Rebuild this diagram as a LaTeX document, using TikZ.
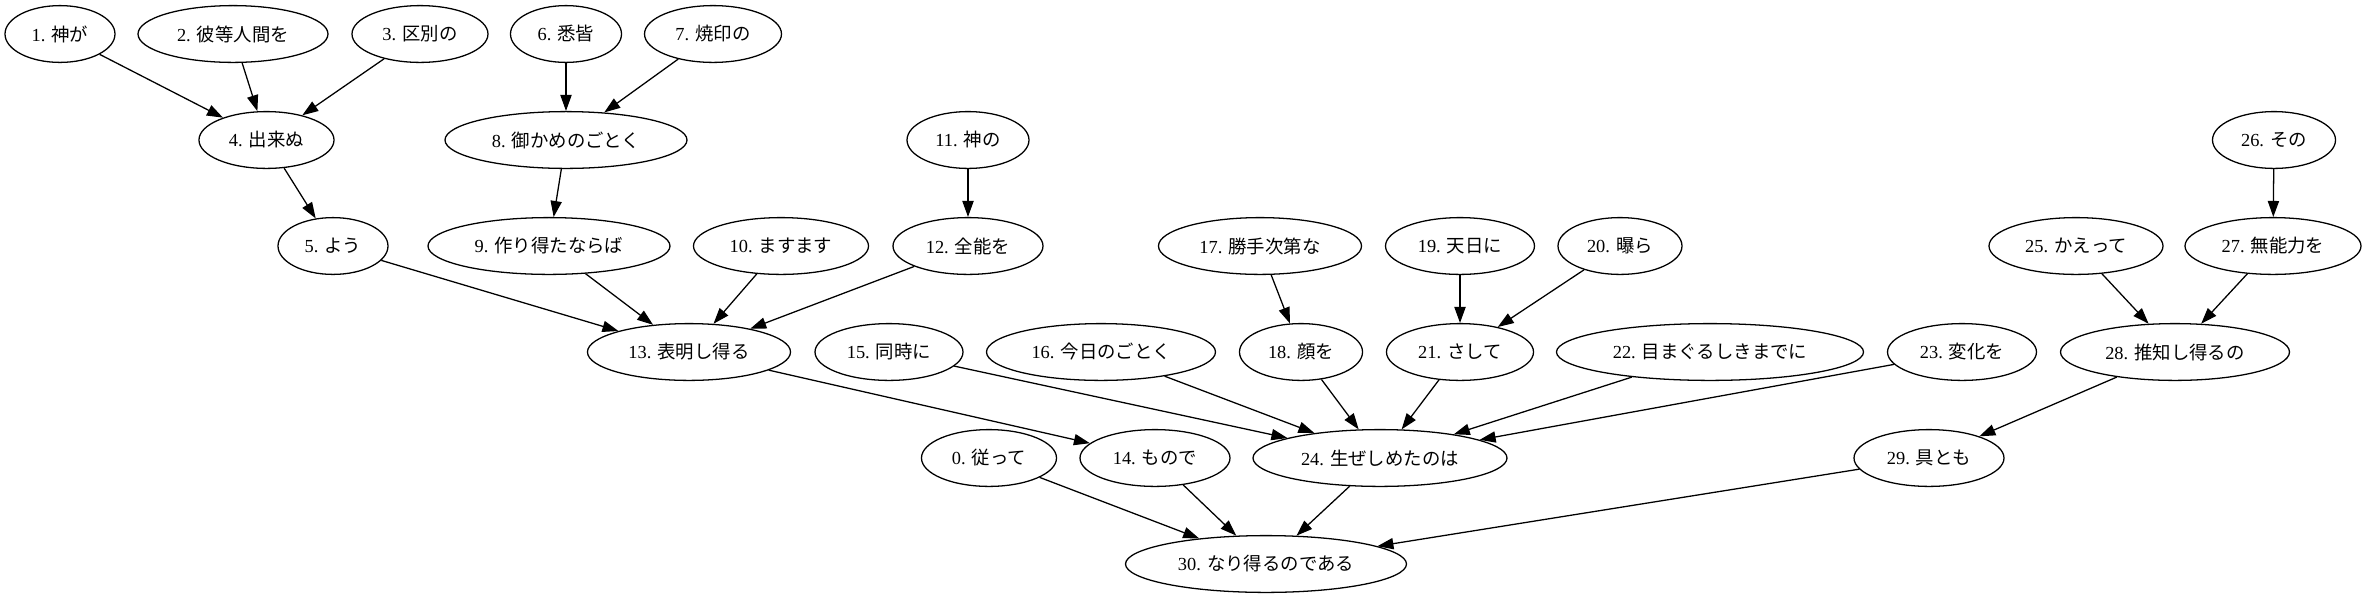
\documentclass[tikz,border=0pt]{standalone}
\usepackage{fontspec}
\setmainfont{Liberation Serif}
\newfontfamily\cjk{Noto Sans CJK JP}
\usetikzlibrary{shapes.geometric,arrows.meta}
\newcommand{\lb}[2]{#1 {\cjk #2}}
\begin{document}
\begin{tikzpicture}[x=0.625pt,y=-0.625pt,
  nd/.style={ellipse,draw,line width=0.8pt,inner sep=0pt,minimum height=35.5pt,font=\fontsize{11.5pt}{14pt}\selectfont},
  ar/.style={line width=0.8pt,-{Triangle[length=10pt,width=7pt]}}]
\useasboundingbox (0,0) rectangle (2366,599);
% row 1
\node[nd,minimum width=68.75pt] (n1) at (60,34) {\lb{1.}{神が}};
\node[nd,minimum width=118.75pt] (n2) at (233,34) {\lb{2.}{彼等人間を}};
\node[nd,minimum width=85pt] (n3) at (420,34) {\lb{3.}{区別の}};
\node[nd,minimum width=69.4pt] (n6) at (566,34) {\lb{6.}{悉皆}};
\node[nd,minimum width=85.6pt] (n7) at (713,34) {\lb{7.}{焼印の}};
% row 2
\node[nd,minimum width=84.4pt] (n4) at (266.5,140) {\lb{4.}{出来ぬ}};
\node[nd,minimum width=151.25pt] (n8) at (566,140) {\lb{8.}{御かめのごとく}};
\node[nd,minimum width=76.25pt] (n11) at (968,140) {\lb{11.}{神の}};
\node[nd,minimum width=76.9pt] (n26) at (2274,140) {\lb{26.}{その}};
% row 3
\node[nd,minimum width=68.75pt] (n5) at (333,246) {\lb{5.}{よう}};
\node[nd,minimum width=151.25pt] (n9) at (549,246) {\lb{9.}{作り得たならば}};
\node[nd,minimum width=109.4pt] (n10) at (781,246) {\lb{10.}{ますます}};
\node[nd,minimum width=93.75pt] (n12) at (968,246) {\lb{12.}{全能を}};
\node[nd,minimum width=126.9pt] (n17) at (1260,246) {\lb{17.}{勝手次第な}};
\node[nd,minimum width=93.1pt] (n19) at (1460,246) {\lb{19.}{天日に}};
\node[nd,minimum width=77.5pt] (n20) at (1620,246) {\lb{20.}{曝ら}};
\node[nd,minimum width=108.75pt] (n25) at (2076,246) {\lb{25.}{かえって}};
\node[nd,minimum width=110pt] (n27) at (2273,246) {\lb{27.}{無能力を}};
% row 4
\node[nd,minimum width=126.9pt] (n13) at (689,352) {\lb{13.}{表明し得る}};
\node[nd,minimum width=92.5pt] (n15) at (889,352) {\lb{15.}{同時に}};
\node[nd,minimum width=143.1pt] (n16) at (1101,352) {\lb{16.}{今日のごとく}};
\node[nd,minimum width=76.9pt] (n18) at (1301,352) {\lb{18.}{顔を}};
\node[nd,minimum width=91.9pt] (n21) at (1460,352) {\lb{21.}{さして}};
\node[nd,minimum width=191.9pt] (n22) at (1710,352) {\lb{22.}{目まぐるしきまでに}};
\node[nd,minimum width=93.1pt] (n23) at (1962,352) {\lb{23.}{変化を}};
\node[nd,minimum width=143.1pt] (n28) at (2175,352) {\lb{28.}{推知し得るの}};
% row 5
\node[nd,minimum width=84.4pt] (n0) at (989,458) {\lb{0.}{従って}};
\node[nd,minimum width=93.75pt] (n14) at (1155,458) {\lb{14.}{もので}};
\node[nd,minimum width=158.75pt] (n24) at (1380,458) {\lb{24.}{生ぜしめたのは}};
\node[nd,minimum width=93.75pt] (n29) at (1929,458) {\lb{29.}{具とも}};
% row 6
\node[nd,minimum width=175.6pt] (n30) at (1266,564) {\lb{30.}{なり得るのである}};
% edges
\draw[ar] (n1) -- (n4);
\draw[ar] (n2) -- (n4);
\draw[ar] (n3) -- (n4);
\draw[ar] (n6) -- (n8);
\draw[ar] (n7) -- (n8);
\draw[ar] (n4) -- (n5);
\draw[ar] (n8) -- (n9);
\draw[ar] (n11) -- (n12);
\draw[ar] (n5) -- (n13);
\draw[ar] (n9) -- (n13);
\draw[ar] (n10) -- (n13);
\draw[ar] (n12) -- (n13);
\draw[ar] (n13) -- (n14);
\draw[ar] (n15) -- (n24);
\draw[ar] (n16) -- (n24);
\draw[ar] (n17) -- (n18);
\draw[ar] (n18) -- (n24);
\draw[ar] (n19) -- (n21);
\draw[ar] (n20) -- (n21);
\draw[ar] (n21) -- (n24);
\draw[ar] (n22) -- (n24);
\draw[ar] (n23) -- (n24);
\draw[ar] (n26) -- (n27);
\draw[ar] (n25) -- (n28);
\draw[ar] (n27) -- (n28);
\draw[ar] (n28) -- (n29);
\draw[ar] (n0) -- (n30);
\draw[ar] (n14) -- (n30);
\draw[ar] (n24) -- (n30);
\draw[ar] (n29) -- (n30);
\end{tikzpicture}
\end{document}
